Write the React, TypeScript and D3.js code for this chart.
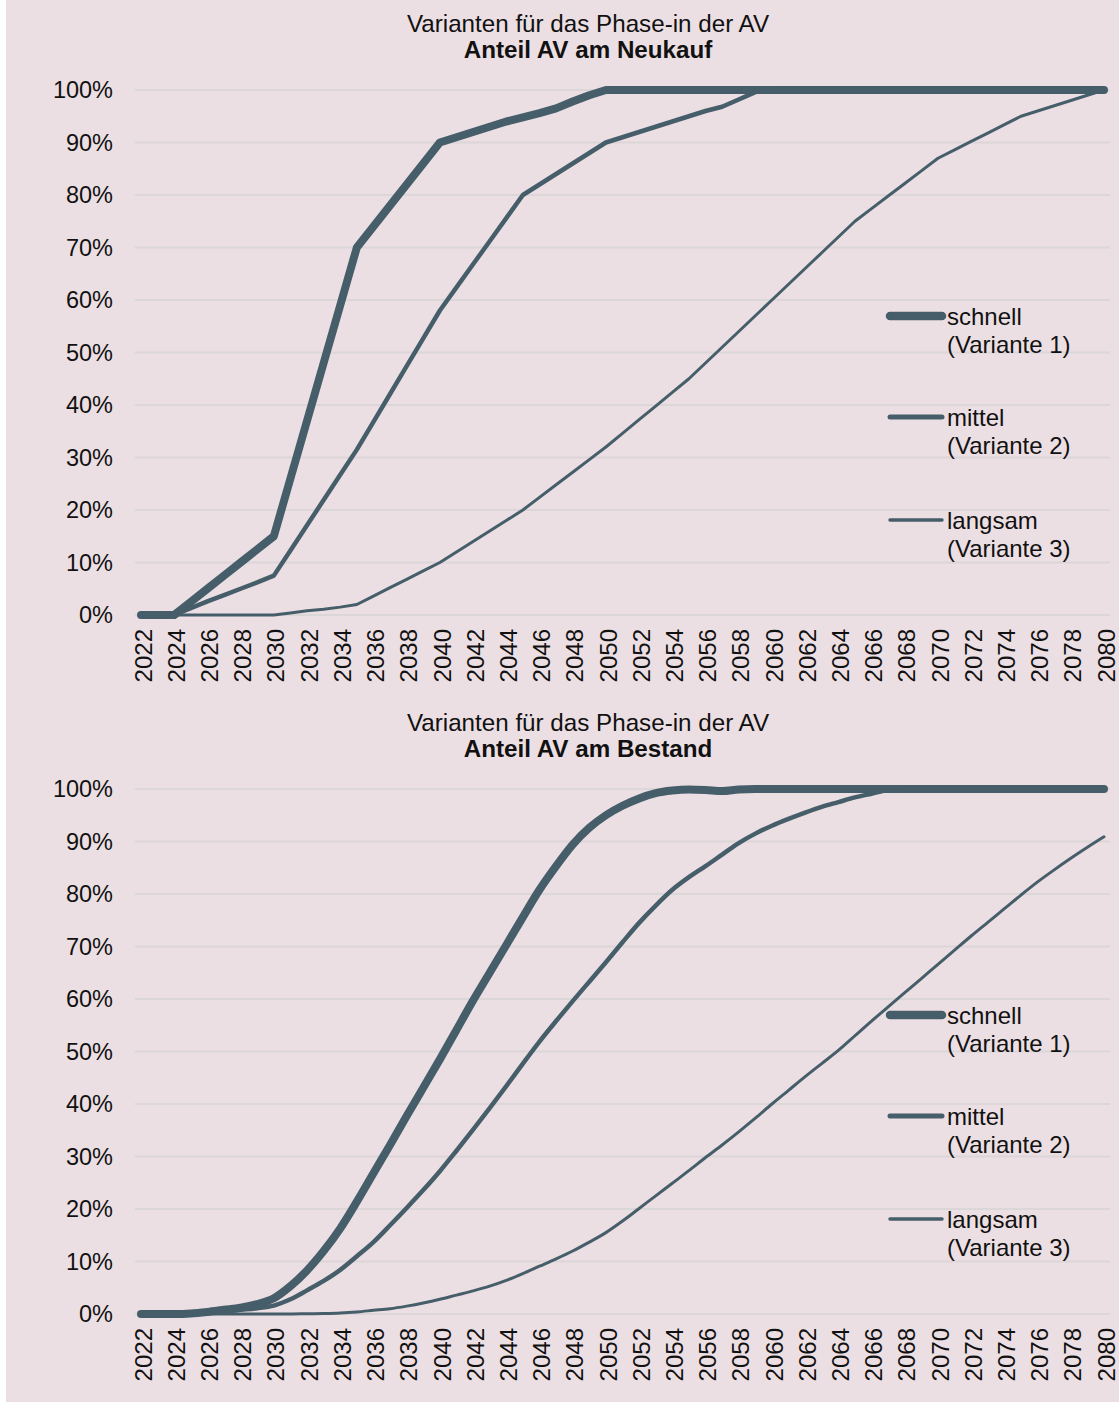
import * as d3 from "d3"

// categories
const years = d3.range(2022, 2081)
const yTicks = [0, 10, 20, 30, 40, 50, 60, 70, 80, 90, 100]
const xTickYears = years.filter(y => (y - 2022) % 2 === 0)

// Anteil AV am Neukauf (%)
const neuSchnell = [0, 0, 0, 2.5, 5, 7.5, 10, 12.5, 15, 26, 37, 48, 59, 70, 74, 78, 82, 86, 90, 91, 92, 93, 94, 94.8, 95.6, 96.5, 97.8, 99, 100,
	100, 100, 100, 100, 100, 100, 100, 100, 100, 100, 100, 100, 100, 100, 100, 100, 100, 100, 100, 100, 100, 100, 100, 100, 100, 100, 100, 100, 100, 100]
const neuMittel = [0, 0, 0, 1.3, 2.6, 3.8, 5, 6.2, 7.5, 12.3, 17.1, 21.9, 26.7, 31.5, 36.8, 42.1, 47.4, 52.7, 58, 62.4, 66.8, 71.2, 75.6, 80, 82, 84, 86, 88, 90,
	91, 92, 93, 94, 95, 96, 96.8, 98.2, 99.6, 100, 100, 100, 100, 100, 100, 100, 100, 100, 100, 100, 100, 100, 100, 100, 100, 100, 100, 100, 100, 100]
const neuLangsam = [0, 0, 0, 0, 0, 0, 0, 0, 0, 0.4, 0.8, 1.1, 1.5, 2, 3.6, 5.2, 6.8, 8.4, 10, 12, 14, 16, 18, 20, 22.4, 24.8, 27.2, 29.6, 32,
	34.6, 37.2, 39.8, 42.4, 45, 48, 51, 54, 57, 60, 63, 66, 69, 72, 75, 77.4, 79.8, 82.2, 84.6, 87, 88.6, 90.2, 91.8, 93.4, 95, 96, 97, 98, 99, 100]

// Anteil AV am Bestand (%)
const bestSchnell = [0, 0, 0, 0.1, 0.4, 0.8, 1.2, 1.9, 3, 5.3, 8.3, 12, 16.3, 21.4, 26.8, 32.2, 37.7, 43.1, 48.5, 54.1, 59.7, 65, 70.3, 75.6, 80.8, 85.3, 89.4, 92.6, 95,
	96.8, 98.2, 99.2, 99.7, 99.9, 99.8, 99.6, 99.9, 100, 100, 100, 100, 100, 100, 100, 100, 100, 100, 100, 100, 100, 100, 100, 100, 100, 100, 100, 100, 100, 100]
const bestMittel = [0, 0, 0, 0.1, 0.3, 0.5, 0.8, 1.1, 1.6, 2.8, 4.5, 6.3, 8.4, 11, 13.7, 16.9, 20.2, 23.6, 27.2, 31.1, 35.1, 39.2, 43.4, 47.7, 51.9, 55.8, 59.6, 63.3, 67,
	70.8, 74.5, 77.8, 80.8, 83.2, 85.3, 87.5, 89.7, 91.5, 93, 94.3, 95.5, 96.6, 97.5, 98.4, 99.1, 99.8, 100, 100, 100, 100, 100, 100, 100, 100, 100, 100, 100, 100, 100]
const bestLangsam = [0, 0, 0, 0, 0, 0, 0, 0, 0, 0, 0.05, 0.1, 0.2, 0.4, 0.7, 1, 1.5, 2.1, 2.8, 3.6, 4.4, 5.3, 6.4, 7.7, 9.1, 10.5, 12, 13.7, 15.5,
	17.7, 20.1, 22.5, 24.9, 27.3, 29.8, 32.2, 34.7, 37.3, 40, 42.6, 45.2, 47.7, 50.2, 53, 55.8, 58.5, 61.2, 63.9, 66.6, 69.3, 72, 74.6, 77.2, 79.8, 82.3, 84.6, 86.8, 88.9, 90.9]

const seriesNames = ["schnell", "mittel", "langsam"]
const seriesSub = ["(Variante 1)", "(Variante 2)", "(Variante 3)"]

const LINE = "#465e6a"
const BG = "#ecdfe3"
const GRID = "#dbd6d8"
const FONT = "'Liberation Sans', Arial, sans-serif"
const FS = 24
const widths = [8, 4.5, 3]

const x = d3.scaleLinear().domain([2022, 2080]).range([141, 1104])
const y = d3.scaleLinear().domain([0, 100]).range([615, 90])

function Panel({ offset, subtitle, data, smooth }) {
	const line = d3.line()
		.x((d, i) => x(years[i]))
		.y(d => y(d))
		.curve(smooth ? d3.curveMonotoneX : d3.curveLinear)

	return (
		<g transform={`translate(0, ${offset})`}>
			{/* title */}
			<text x={588} y={32} textAnchor="middle" fontSize={24.2} fill="#111">Varianten für das Phase-in der AV</text>
			<text x={588} y={58} textAnchor="middle" fontSize={24.2} fontWeight="bold" fill="#111">{subtitle}</text>

			{/* grid */}
			{yTicks.map(t => (
				<line key={t} x1={x(2022) - 6} x2={x(2080) + 6} y1={y(t)} y2={y(t)} stroke={GRID} strokeWidth={2} />
			))}

			{/* y labels */}
			{yTicks.map(t => (
				<text key={t} x={113} y={y(t)} dy="0.36em" textAnchor="end" fontSize={23.5} fill="#111">{t}%</text>
			))}

			{/* x labels */}
			{xTickYears.map(yr => (
				<text key={yr} transform={`translate(${x(yr) + 2}, 629) rotate(-90)`} dy="0.36em" textAnchor="end" fontSize={FS} fill="#111">{yr}</text>
			))}

			{/* lines */}
			{data.map((s, i) => (
				<path key={i} d={line(s)} fill="none" stroke={LINE} strokeWidth={widths[i]} strokeLinecap="round" strokeLinejoin="round" />
			))}

			{/* legend */}
			{seriesNames.map((name, i) => {
				const ly = [316, 417, 520][i]
				return (
					<g key={name}>
						<line x1={890} x2={942} y1={ly} y2={ly} stroke={LINE} strokeWidth={widths[i] + 0.5} strokeLinecap="round" />
						<text x={947} y={ly} dy="0.36em" fontSize={FS} fill="#111">{name}</text>
						<text x={947} y={ly + 28} dy="0.36em" fontSize={FS} fill="#111">{seriesSub[i]}</text>
					</g>
				)
			})}
		</g>
	)
}

export default function App() {
	return (
		<svg width={1119} height={1407} style={{ position: "absolute", left: 0, top: 0, fontFamily: FONT }}>
			<rect x={0} y={0} width={1119} height={1407} fill="#ffffff" />
			<rect x={6} y={0} width={1113} height={1402} fill={BG} />
			<Panel offset={0} subtitle="Anteil AV am Neukauf" data={[neuSchnell, neuMittel, neuLangsam]} smooth={false} />
			<Panel offset={699} subtitle="Anteil AV am Bestand" data={[bestSchnell, bestMittel, bestLangsam]} smooth={true} />
		</svg>
	)
}
